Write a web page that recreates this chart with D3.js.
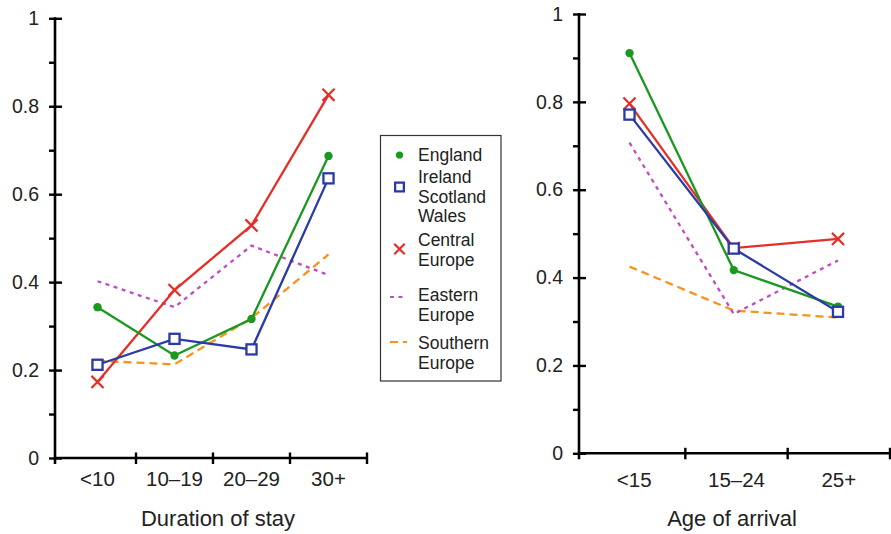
<!DOCTYPE html>
<html>
<head>
<meta charset="utf-8">
<script src="https://cdn.jsdelivr.net/npm/d3@7"></script>
<style>
  body { margin: 0; background: #fff; }
  svg { font-family: "Liberation Sans", Arial, Helvetica, sans-serif; }
</style>
</head>
<body>
<script>
const width = 891;
const height = 534;

// categories
const durationCats = ["<10", "10–19", "20–29", "30+"];
const ageCats = ["<15", "15–24", "25+"];

// series values, duration of stay
const englandDuration = [0.343, 0.233, 0.316, 0.687];
const irelandDuration = [0.212, 0.271, 0.247, 0.636];
const centralDuration = [0.173, 0.382, 0.529, 0.826];
const easternDuration = [0.402, 0.343, 0.483, 0.416];
const southernDuration = [0.221, 0.213, 0.318, 0.463];

// series values, age of arrival
const englandAge = [0.911, 0.417, 0.334];
const irelandAge = [0.771, 0.466, 0.322];
const centralAge = [0.796, 0.467, 0.488];
const easternAge = [0.707, 0.317, 0.439];
const southernAge = [0.425, 0.325, 0.309];

// ticks
const yTicks = [0, 0.2, 0.4, 0.6, 0.8, 1];
const yTickLabels = ["0", "0.2", "0.4", "0.6", "0.8", "1"];
const yMinorTicks = [0.1, 0.3, 0.5, 0.7, 0.9];

// legend text
const legendLines = [
  ["England"],
  ["Ireland", "Scotland", "Wales"],
  ["Central", "Europe"],
  ["Eastern", "Europe"],
  ["Southern", "Europe"],
];

// styles (order = legend order)
const styles = [
  { color: "#1a981f", dash: null, marker: "dot", legendY: 155 },
  { color: "#2b3aa6", dash: null, marker: "square", legendY: 187 },
  { color: "#e62e26", dash: null, marker: "x", legendY: 249 },
  { color: "#c24ac4", dash: "4,4.5", marker: null, legendY: 297 },
  { color: "#f7921a", dash: "8,5", marker: null, legendY: 342 },
];

const svg = d3
  .select("body")
  .append("svg")
  .attr("width", width)
  .attr("height", height);

function drawMarker(g, type, x, y, color, s) {
  if (type === "dot") {
    g.append("circle")
      .attr("cx", x)
      .attr("cy", y)
      .attr("r", 3.8 * s)
      .attr("fill", color);
  } else if (type === "square") {
    g.append("rect")
      .attr("x", x - 4.6 * s)
      .attr("y", y - 4.6 * s)
      .attr("width", 9.2 * s)
      .attr("height", 9.2 * s)
      .attr("fill", "#fff")
      .attr("stroke", color)
      .attr("stroke-width", 2.3);
  } else if (type === "x") {
    const h = 5.5 * s;
    g.append("path")
      .attr("d", `M${x - h},${y - h}L${x + h},${y + h}M${x - h},${y + h}L${x + h},${y - h}`)
      .attr("stroke", color)
      .attr("stroke-width", 2.2)
      .attr("fill", "none");
  }
}

function drawPanel(p) {
  const g = svg.append("g");

  const y = d3.scaleLinear().domain([0, 1]).range([p.y0, p.y1]);
  const xBand = d3.scaleBand().domain(p.cats).range(p.bandRange);
  const xPoint = d3.scalePoint().domain(p.cats).range(p.pointRange);

  // y axis
  const yAxis = g
    .append("g")
    .attr("transform", `translate(${p.axisX},0)`)
    .call(
      d3
        .axisLeft(y)
        .tickValues(yTicks)
        .tickFormat((d, i) => yTickLabels[i])
        .tickSize(6)
        .tickSizeOuter(0)
        .tickPadding(10)
    );
  yAxis.select(".domain").remove();
  yAxis.selectAll(".tick line").attr("x1", 7).attr("stroke-width", 2.4);
  yAxis
    .selectAll(".tick text")
    .attr("font-size", 19.5)
    .attr("fill", "#222")
    .attr("font-family", null);

  const yMinor = g
    .append("g")
    .attr("transform", `translate(${p.axisX},0)`)
    .call(d3.axisLeft(y).tickValues(yMinorTicks).tickFormat("").tickSize(6).tickSizeOuter(0));
  yMinor.select(".domain").remove();
  yMinor.selectAll(".tick line").attr("stroke-width", 2.4);

  g.append("line")
    .attr("x1", p.axisX)
    .attr("x2", p.axisX)
    .attr("y1", y(1) - 1)
    .attr("y2", y(0) + 6)
    .attr("stroke", "#000")
    .attr("stroke-width", 2.6);

  // x axis
  g.append("line")
    .attr("x1", p.axisX)
    .attr("x2", p.bandRange[1])
    .attr("y1", y(0))
    .attr("y2", y(0))
    .attr("stroke", "#000")
    .attr("stroke-width", 2.6);

  g.selectAll(".xtick")
    .data(p.cats)
    .join("line")
    .attr("class", "xtick")
    .attr("x1", (d) => xBand(d) + xBand.bandwidth())
    .attr("x2", (d) => xBand(d) + xBand.bandwidth())
    .attr("y1", y(0) - 5.5)
    .attr("y2", y(0) + 6)
    .attr("stroke", "#000")
    .attr("stroke-width", 2.4);

  g.selectAll(".xlabel")
    .data(p.cats)
    .join("text")
    .attr("class", "xlabel")
    .attr("x", (d) => xBand(d) + xBand.bandwidth() / 2)
    .attr("y", y(0) + p.labelDy)
    .attr("text-anchor", "middle")
    .attr("font-size", 20.5)
    .attr("fill", "#222")
    .text((d) => d);

  g.append("text")
    .attr("x", p.titleX)
    .attr("y", 526)
    .attr("text-anchor", "middle")
    .attr("font-size", 22)
    .attr("fill", "#222")
    .text(p.title);

  // lines, drawn back to front
  const line = d3
    .line()
    .x((d, i) => xPoint(p.cats[i]))
    .y((d) => y(d));

  const order = [4, 3, 2, 0, 1];
  order.forEach((k) => {
    const st = styles[k];
    g.append("path")
      .datum(p.series[k])
      .attr("d", line)
      .attr("fill", "none")
      .attr("stroke", st.color)
      .attr("stroke-width", 2.3)
      .attr("stroke-dasharray", st.dash);
  });
  order.forEach((k) => {
    const st = styles[k];
    if (!st.marker) return;
    p.series[k].forEach((v, i) => {
      drawMarker(g, st.marker, xPoint(p.cats[i]), y(v), st.color, 1.1);
    });
  });
}

drawPanel({
  cats: durationCats,
  series: [englandDuration, irelandDuration, centralDuration, easternDuration, southernDuration],
  y0: 458,
  y1: 18.3,
  axisX: 55,
  bandRange: [59, 367],
  pointRange: [97.5, 328.5],
  labelDy: 27.7,
  title: "Duration of stay",
  titleX: 218,
});

drawPanel({
  cats: ageCats,
  series: [englandAge, irelandAge, centralAge, easternAge, southernAge],
  y0: 453.3,
  y1: 14,
  axisX: 579,
  bandRange: [583, 890],
  pointRange: [629.5, 838],
  labelDy: 33.4,
  title: "Age of arrival",
  titleX: 732,
});

// legend
const legend = svg.append("g");
legend
  .append("rect")
  .attr("x", 380.5)
  .attr("y", 135.5)
  .attr("width", 120.5)
  .attr("height", 245.5)
  .attr("fill", "#fff")
  .attr("stroke", "#333")
  .attr("stroke-width", 1.2);

const legendBaselines = [161, 183, 246, 301, 349];
const lineStep = 19.6;

legendLines.forEach((lines, k) => {
  const st = styles[k];
  const txt = legend
    .append("text")
    .attr("x", 418)
    .attr("y", legendBaselines[k])
    .attr("font-size", 17.5)
    .attr("fill", "#222");
  lines.forEach((t, j) => {
    txt
      .append("tspan")
      .attr("x", 418)
      .attr("dy", j === 0 ? 0 : lineStep)
      .text(t);
  });
  if (st.marker) {
    drawMarker(legend, st.marker, 399.5, st.legendY, st.color, 0.95);
  } else {
    legend
      .append("line")
      .attr("x1", 390)
      .attr("x2", 407)
      .attr("y1", st.legendY)
      .attr("y2", st.legendY)
      .attr("stroke", st.color)
      .attr("stroke-width", 2.2)
      .attr("stroke-dasharray", st.dash);
  }
});
</script>
</body>
</html>
